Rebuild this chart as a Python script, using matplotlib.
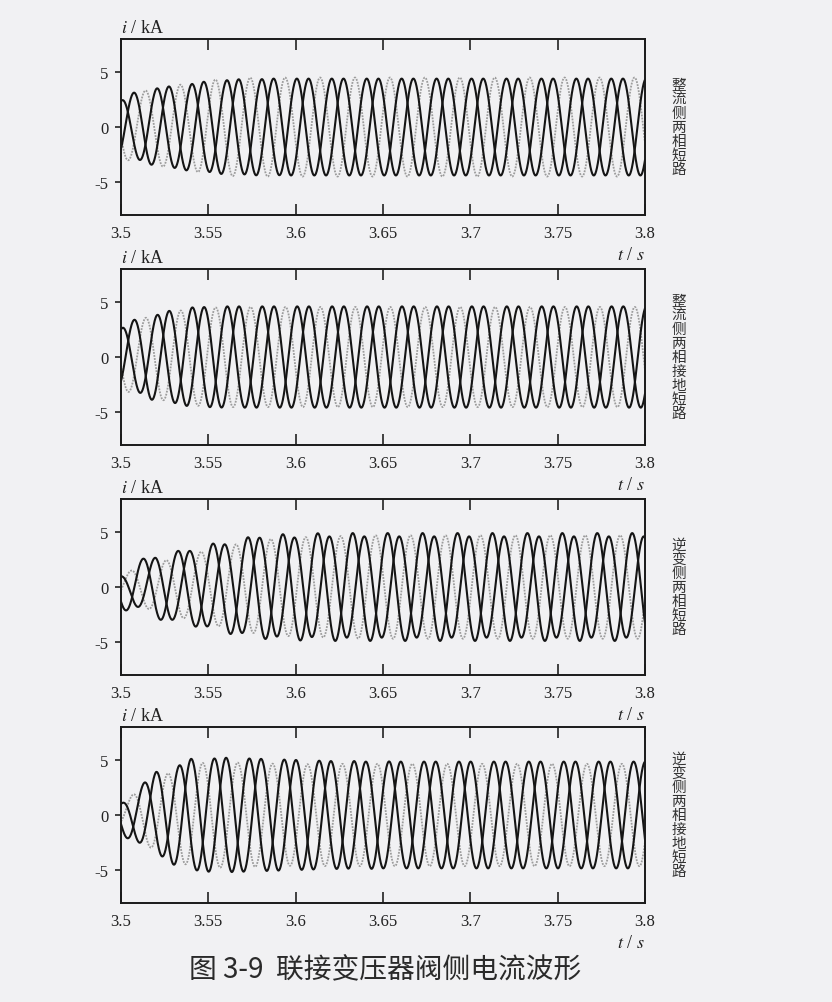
import numpy as np
import matplotlib
matplotlib.use("Agg")
import matplotlib.pyplot as plt

plt.rcParams["font.family"] = ["Liberation Serif", "Noto Sans CJK SC"]
plt.rcParams["mathtext.fontset"] = "stix"
plt.rcParams["axes.unicode_minus"] = False

# dados
freq = 50.0  # Hz
t_env = [3.50, 3.52, 3.54, 3.56, 3.58, 3.60, 3.62, 3.64,
         3.66, 3.68, 3.70, 3.72, 3.74, 3.76, 3.78, 3.80]
xticks = [3.5, 3.55, 3.6, 3.65, 3.7, 3.75, 3.8]
xtick_labels = ["3.5", "3.55", "3.6", "3.65", "3.7", "3.75", "3.8"]
yticks = [-5, 0, 5]

side_labels = ["整流侧两相短路", "整流侧两相接地短路",
               "逆变侧两相短路", "逆变侧两相接地短路"]
caption = "图 3-9  联接变压器阀侧电流波形"

# first peak time of each phase: [black 1, black 2, gray]
peak_t1 = [3.5074, 3.5007, 3.5140]
peak_t2 = [3.5076, 3.5009, 3.5142]
peak_t3 = [3.5127, 3.5193, 3.5258]
peak_t4 = [3.5135, 3.5202, 3.5068]

# envelope (kA) at t_env, phases [black 1, black 2, gray]
amp1 = [[2.9, 3.5, 4.0, 4.3, 4.4, 4.4, 4.4, 4.4, 4.4, 4.4, 4.4, 4.4, 4.4, 4.4, 4.4, 4.4],
        [2.4, 3.5, 3.9, 4.25, 4.35, 4.4, 4.4, 4.4, 4.4, 4.4, 4.4, 4.4, 4.4, 4.4, 4.4, 4.4],
        [2.9, 3.5, 4.0, 4.45, 4.5, 4.5, 4.5, 4.5, 4.5, 4.5, 4.5, 4.5, 4.5, 4.5, 4.5, 4.5]]
amp2 = [[3.0, 4.0, 4.5, 4.6, 4.6, 4.6, 4.6, 4.6, 4.6, 4.6, 4.6, 4.6, 4.6, 4.6, 4.6, 4.6],
        [2.6, 3.8, 4.5, 4.6, 4.6, 4.6, 4.6, 4.6, 4.6, 4.6, 4.6, 4.6, 4.6, 4.6, 4.6, 4.6],
        [3.0, 3.8, 4.4, 4.55, 4.55, 4.55, 4.55, 4.55, 4.55, 4.55, 4.55, 4.55, 4.55, 4.55, 4.55, 4.55]]
amp3 = [[2.0, 2.9, 3.5, 4.2, 4.7, 4.85, 4.9, 4.9, 4.9, 4.9, 4.9, 4.9, 4.9, 4.9, 4.9, 4.9],
        [1.0, 2.7, 3.3, 3.9, 4.5, 4.5, 4.6, 4.6, 4.6, 4.6, 4.6, 4.6, 4.6, 4.6, 4.6, 4.6],
        [1.2, 2.2, 3.0, 3.7, 4.3, 4.5, 4.6, 4.7, 4.7, 4.7, 4.7, 4.7, 4.7, 4.7, 4.7, 4.7]]
amp4 = [[1.8, 3.5, 5.0, 5.2, 5.1, 5.0, 4.9, 4.9, 4.85, 4.85, 4.85, 4.85, 4.85, 4.85, 4.85, 4.85],
        [1.0, 3.9, 5.1, 5.2, 5.1, 5.0, 4.9, 4.85, 4.85, 4.85, 4.85, 4.85, 4.85, 4.85, 4.85, 4.85],
        [1.1, 3.3, 4.7, 4.8, 4.7, 4.6, 4.65, 4.65, 4.65, 4.65, 4.65, 4.65, 4.65, 4.65, 4.65, 4.65]]

paineis = [(peak_t1, amp1), (peak_t2, amp2), (peak_t3, amp3), (peak_t4, amp4)]

# posicoes dos eixos em fracao da figura
bottoms = [0.7846, 0.5553, 0.3260, 0.0987]
left, width, height = 0.1454, 0.6298, 0.1755

bg = "#f1f1f3"
fig = plt.figure(figsize=(8.32, 10.03), dpi=100, facecolor=bg)

t = np.linspace(3.5, 3.8, 4001)

for k, (pk, amps) in enumerate(paineis):
    ax = fig.add_axes([left, bottoms[k], width, height])
    ax.set_facecolor(bg)
    envs = [np.interp(t, t_env, a) for a in amps]
    ondas = [envs[i] * np.cos(2 * np.pi * freq * (t - pk[i])) for i in range(3)]
    # gray phase behind
    ax.plot(t, ondas[2], color="#9c9c9c", lw=1.3, linestyle=(0, (1, 0.7)))
    ax.plot(t, ondas[0], color="#151515", lw=1.5)
    ax.plot(t, ondas[1], color="#151515", lw=1.5)

    ax.set_xlim(3.5, 3.8)
    ax.set_ylim(-8, 8)
    ax.set_xticks(xticks)
    ax.set_xticklabels(xtick_labels)
    ax.set_yticks(yticks)
    ax.set_yticklabels([str(v) for v in yticks])
    ax.tick_params(axis="x", direction="in", top=True, bottom=True, length=8,
                   width=1.2, labelsize=12, pad=7, colors="#222222")
    ax.tick_params(axis="y", direction="out", left=True, right=False, length=4,
                   width=1.2, labelsize=12, pad=5, colors="#222222")
    for s in ax.spines.values():
        s.set_linewidth(1.4)
        s.set_color("#1a1a1a")

    ax.text(0.0, 1.015, "$i$ / kA", transform=ax.transAxes, fontsize=13,
            ha="left", va="bottom", color="#222222")
    ax.text(1.0, -0.175, "$t$ / $s$", transform=ax.transAxes, fontsize=13,
            ha="right", va="top", color="#222222")

    lab = "\n".join(side_labels[k])
    ax.text(1.05, 0.5, lab, transform=ax.transAxes, fontsize=10.5,
            family=["Noto Sans CJK SC", "DejaVu Sans"], ha="left", va="center",
            linespacing=1.0, color="#333333")

fig.text(0.463, 0.033, caption, fontsize=20,
         family=["Noto Sans CJK SC", "DejaVu Sans"], ha="center", va="center",
         color="#2a2a2a", fontweight="light")

plt.savefig("out.png", dpi=100, facecolor=bg)
plt.close("all")
